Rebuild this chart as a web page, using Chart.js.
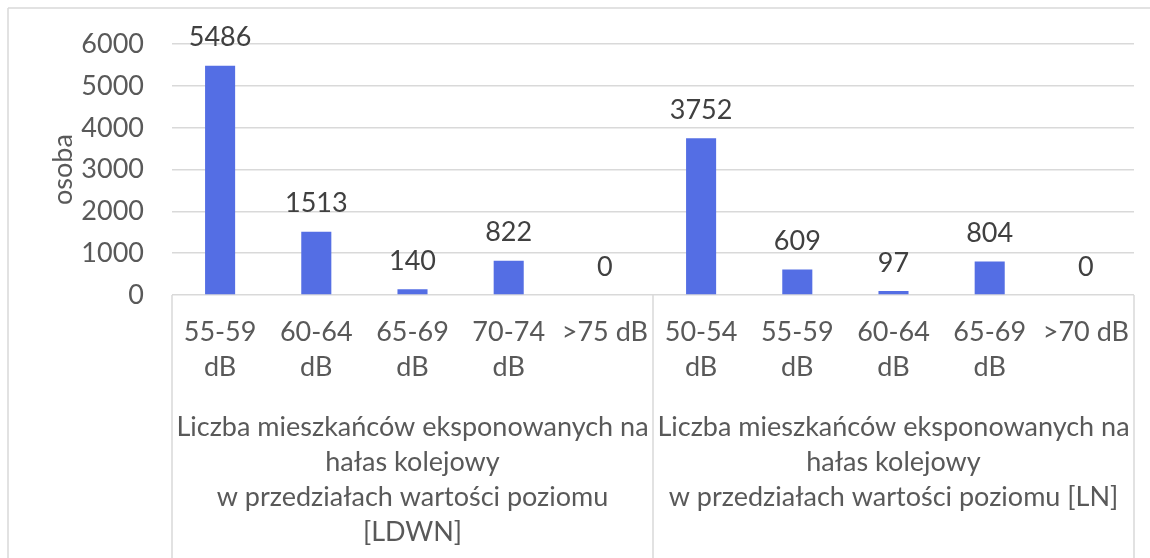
<!DOCTYPE html>
<html>
<head>
<meta charset="utf-8">
<script src="https://cdn.jsdelivr.net/npm/chart.js@4/dist/chart.umd.min.js"></script>
<style>
  html, body { margin: 0; padding: 0; background: #fff; }
  canvas { display: block; }
</style>
</head>
<body>
<canvas id="chart" width="1150" height="558"></canvas>
<script>
// categories (two groups of five noise bands)
const bandLabels = [
  ['55-59', 'dB'], ['60-64', 'dB'], ['65-69', 'dB'], ['70-74', 'dB'], ['>75 dB'],
  ['50-54', 'dB'], ['55-59', 'dB'], ['60-64', 'dB'], ['65-69', 'dB'], ['>70 dB']
];
const groupLabels = [
  ['Liczba mieszkańców eksponowanych na', 'hałas kolejowy', 'w przedziałach wartości poziomu', '[LDWN]'],
  ['Liczba mieszkańców eksponowanych na', 'hałas kolejowy', 'w przedziałach wartości poziomu [LN]']
];
const residents = [5486, 1513, 140, 822, 0, 3752, 609, 97, 804, 0];
const yTicks = [0, 1000, 2000, 3000, 4000, 5000, 6000];

const FONT = 'Lato';
const SIZE = 27;
const gridGray = '#d9d9d9';

// value labels above bars
const valueLabels = {
  id: 'valueLabels',
  afterDatasetsDraw(chart) {
    const ctx = chart.ctx;
    const meta = chart.getDatasetMeta(0);
    ctx.save();
    ctx.font = SIZE + 'px ' + FONT;
    ctx.fillStyle = '#404040';
    ctx.textAlign = 'center';
    ctx.textBaseline = 'middle';
    meta.data.forEach((bar, i) => {
      ctx.fillText(String(residents[i]), bar.x, bar.y - 28);
    });
    ctx.restore();
  }
};

// category separators below the axis and the outer frame
const frameLines = {
  id: 'frameLines',
  afterDraw(chart) {
    const ctx = chart.ctx;
    const x = chart.scales.x;
    const half = residents.length / 2;
    const mid = (x.getPixelForValue(half - 1) + x.getPixelForValue(half)) / 2;
    ctx.save();
    ctx.strokeStyle = gridGray;
    ctx.lineWidth = 1.5;
    ctx.beginPath();
    [x.left, mid, x.right].forEach(px => {
      ctx.moveTo(px, x.top);
      ctx.lineTo(px, chart.height);
    });
    ctx.moveTo(8, 8);
    ctx.lineTo(chart.width, 8);
    ctx.moveTo(8, 8);
    ctx.lineTo(8, chart.height);
    ctx.stroke();
    ctx.restore();
  }
};

new Chart(document.getElementById('chart'), {
  type: 'bar',
  data: {
    labels: bandLabels,
    datasets: [{
      data: residents,
      backgroundColor: '#546ee4',
      barPercentage: 0.5,
      categoryPercentage: 0.625,
      xAxisID: 'x'
    }]
  },
  options: {
    responsive: false,
    animation: false,
    layout: { padding: { top: 40, right: 16, left: 0, bottom: 0 } },
    plugins: {
      legend: { display: false },
      tooltip: { enabled: false }
    },
    scales: {
      y: {
        min: 0,
        max: 6000,
        afterFit: s => { s.width = 172; },
        afterBuildTicks: s => { s.ticks = yTicks.map(v => ({ value: v })); },
        grid: { color: gridGray, lineWidth: 1.5, drawTicks: false },
        border: { display: false },
        ticks: {
          color: '#595959',
          padding: 28,
          font: { family: FONT, size: SIZE },
          callback: v => String(v)
        },
        title: {
          display: true,
          text: 'osoba',
          color: '#595959',
          font: { family: FONT, size: SIZE },
          padding: { top: 47, bottom: 0 }
        }
      },
      x: {
        weight: 0,
        afterFit: s => { s.height = 100; },
        grid: { display: false, drawTicks: false },
        border: { display: false },
        ticks: {
          color: '#595959',
          padding: 20,
          maxRotation: 0,
          autoSkip: false,
          font: { family: FONT, size: SIZE, lineHeight: 35 / SIZE }
        }
      },
      x2: {
        type: 'category',
        position: 'bottom',
        weight: 1,
        labels: groupLabels,
        offset: true,
        afterFit: s => { s.height = 163; },
        grid: { display: false, drawTicks: false },
        border: { display: false },
        ticks: {
          color: '#595959',
          padding: 15,
          maxRotation: 0,
          autoSkip: false,
          font: { family: FONT, size: SIZE, lineHeight: 35 / SIZE }
        }
      }
    }
  },
  plugins: [valueLabels, frameLines]
});
</script>
</body>
</html>
